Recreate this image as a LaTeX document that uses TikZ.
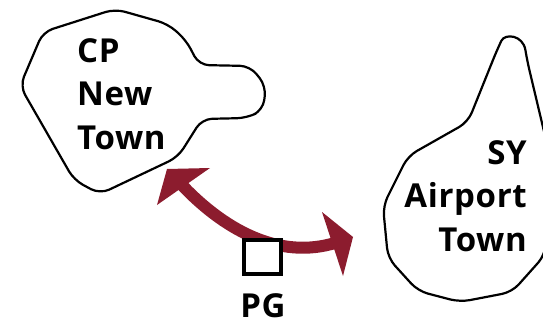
\documentclass[tikz,border=0pt]{standalone}
\usepackage{fontspec}
\setmainfont{Open Sans}[LetterSpace=2]
\definecolor{arrowred}{RGB}{140,28,46}
\begin{document}
\begin{tikzpicture}[x=1pt,y=-1pt,
  outline/.style={draw=black,line width=2.2pt,line join=round,rounded corners=10pt},
  townlabel/.style={font=\fontsize{33}{43.5}\selectfont\bfseries,inner sep=0pt},
  stem/.style={draw=arrowred,line width=12pt},
  head/.style={fill=arrowred},
  pgbox/.style={draw=black,fill=white,line width=4pt}]
\useasboundingbox (0,0) rectangle (543,324);
% CP New Town outline
\draw[outline] (20,86) -- (43,32) -- (115,9) -- (168,24) -- (186,40) -- (199,65)
  -- (250,66) -- (266,86) -- (263,110) -- (247,118) -- (202,119) -- (178,157)
  -- (100,194) -- (74,180) -- cycle;
% SY Airport Town outline
\draw[outline] (497,50) .. controls (505,33) and (523,35) .. (527,60)
  -- (552,165) -- (545,255) -- (512,292) -- (460,302) -- (418,291) -- (388,258)
  -- (383,206) -- (408,156) -- (468,122) -- cycle;
\node[townlabel,align=left,anchor=north west] (cp) at (77,38) {CP\\New\\Town};
\node[townlabel,align=right,anchor=north east] (sy) at (527,140) {SY\\Airport\\Town};
% arrow
\coordinate (tipL) at (167,169);
\coordinate (tipR) at (353,237);
\coordinate (baseL) at (180,183);
\coordinate (baseR) at (336.5,242.5);
\draw[stem] (baseL) .. controls (222,228) and (278,261) .. (baseR);
\fill[head] (tipL) -- (210,168) -- (157,205) -- cycle;
\fill[head] (tipR) -- (322,212) -- (343,276) -- cycle;
% PG
\node[pgbox,minimum width=37pt,minimum height=34pt,inner sep=0pt] (pg) at (262.5,256.5) {};
\node[townlabel,anchor=north] (pglabel) at (263,293) {PG};
\end{tikzpicture}
\end{document}
